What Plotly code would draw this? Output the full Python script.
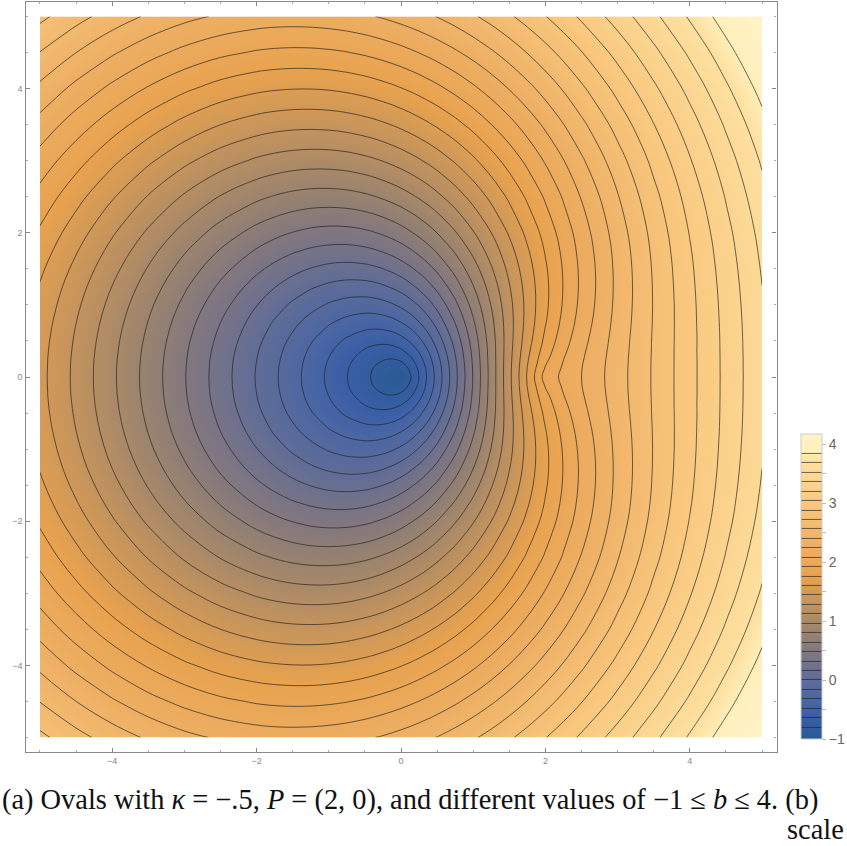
import plotly.graph_objects as go

x_vals = [-5, -4.5, -4, -3.5, -3, -2.5, -2, -1.75, -1.5, -1.25, -1, -.75, -.5, -.375, -.25, -.125, 0, .125, .25, .375, .5, .75, 1, 1.25, 1.5, 1.75, 2, 2.25, 2.5, 3, 3.5, 4, 4.5, 5]
y_upper = [0, .125, .25, .375, .5, .75, 1, 1.25, 1.5, 1.75, 2, 2.5, 3, 3.5, 4, 4.5, 5]

row_y0 = [1.5, 1.25, 1, .75, .5, .25, 0, -.125, -.25, -.375, -.5, -.625, -.75, -.8125, -.875, -.9375, -1, -.8125, -.625, -.4375, -.25, .125, .5, .875, 1.25, 1.625, 2, 2.125, 2.25, 2.5, 2.75, 3, 3.25, 3.5]
row_y0125 = [1.502, 1.251, 1.001, .751, .502, .252, .003, -.122, -.246, -.370, -.494, -.617, -.737, -.794, -.847, -.888, -.877, -.763, -.597, -.420, -.238, .132, .504, .876, 1.248, 1.614, 1.942, 2.113, 2.246, 2.499, 2.750, 3.000, 3.251, 3.501]
row_y025 = [1.504, 1.254, 1.005, .756, .507, .258, .012, -.111, -.234, -.355, -.474, -.590, -.697, -.743, -.778, -.790, -.758, -.666, -.530, -.371, -.202, .154, .516, .880, 1.242, 1.591, 1.891, 2.087, 2.233, 2.495, 2.749, 3.000, 3.251, 3.501]
row_y0375 = [1.509, 1.261, 1.012, .764, .516, .270, .026, -.095, -.214, -.331, -.444, -.549, -.639, -.672, -.690, -.684, -.643, -.561, -.444, -.304, -.148, .187, .534, .886, 1.234, 1.565, 1.848, 2.056, 2.216, 2.489, 2.747, 3.001, 3.252, 3.503]
row_y05 = [1.516, 1.269, 1.021, .775, .529, .286, .047, -.072, -.187, -.298, -.403, -.497, -.568, -.589, -.594, -.577, -.531, -.456, -.351, -.225, -.084, .228, .559, .896, 1.228, 1.541, 1.812, 2.026, 2.197, 2.482, 2.746, 3.000, 3.253, 3.505]
row_y075 = [1.536, 1.291, 1.047, .804, .564, .329, .101, -.008, -.113, -.210, -.296, -.364, -.404, -.407, -.395, -.367, -.318, -.250, -.161, -.056, .063, .332, .625, .928, 1.227, 1.509, 1.761, 1.977, 2.160, 2.467, 2.741, 3.002, 3.257, 3.510]
row_y1 = [1.564, 1.322, 1.082, .845, .613, .388, .175, .076, -.017, -.099, -.167, -.213, -.229, -.221, -.200, -.167, -.118, -.055, .023, .114, .217, .450, .707, .976, 1.244, 1.501, 1.736, 1.947, 2.134, 2.455, 2.739, 3.005, 3.264, 3.518]
row_y125 = [1.598, 1.360, 1.126, .897, .673, .460, .262, .175, .095, .027, -.024, -.053, -.052, -.037, -.012, .024, .071, .130, .200, .280, .370, .574, .801, 1.039, 1.280, 1.514, 1.733, 1.937, 2.122, 2.450, 2.741, 3.012, 3.273, 3.529]
row_y15 = [1.641, 1.408, 1.180, .958, .744, .544, .364, .286, .217, .164, .126, .111, .124, .142, .169, .205, .25, .305, .369, .441, .521, .701, .901, 1.115, 1.331, 1.545, 1.75, 1.944, 2.125, 2.453, 2.748, 3.022, 3.286, 3.543]
row_y175 = [1.690, 1.463, 1.241, 1.027, .825, .638, .475, .406, .349, .306, .280, .274, .294, .315, .343, .378, .421, .472, .531, .596, .668, .829, 1.008, 1.199, 1.395, 1.591, 1.783, 1.966, 2.142, 2.465, 2.761, 3.037, 3.302, 3.561]
row_y2 = [1.745, 1.524, 1.310, 1.105, .914, .740, .592, .533, .485, .450, .433, .436, .461, .483, .511, .545, .586, .634, .687, .747, .812, .957, 1.118, 1.290, 1.469, 1.650, 1.828, 2.002, 2.171, 2.488, 2.781, 3.058, 3.323, 3.582]
row_y25 = [1.874, 1.666, 1.467, 1.280, 1.110, .962, .844, .799, .765, .745, .741, .752, .782, .804, .831, .863, .899, .941, .986, 1.037, 1.093, 1.213, 1.347, 1.490, 1.640, 1.796, 1.952, 2.107, 2.261, 2.559, 2.844, 3.116, 3.380, 3.638]
row_y3 = [2.023, 1.829, 1.646, 1.478, 1.327, 1.201, 1.106, 1.072, 1.049, 1.039, 1.041, 1.057, 1.089, 1.110, 1.135, 1.165, 1.197, 1.234, 1.274, 1.317, 1.364, 1.467, 1.581, 1.704, 1.834, 1.968, 2.106, 2.245, 2.385, 2.662, 2.933, 3.197, 3.456, 3.710]
row_y35 = [2.190, 2.010, 1.842, 1.691, 1.559, 1.451, 1.374, 1.348, 1.333, 1.329, 1.335, 1.354, 1.386, 1.405, 1.429, 1.455, 1.485, 1.517, 1.553, 1.591, 1.632, 1.721, 1.820, 1.928, 2.040, 2.159, 2.281, 2.407, 2.533, 2.790, 3.046, 3.300, 3.551, 3.798]
row_y4 = [2.372, 2.205, 2.052, 1.915, 1.799, 1.707, 1.644, 1.625, 1.615, 1.614, 1.623, 1.643, 1.673, 1.692, 1.714, 1.737, 1.764, 1.793, 1.825, 1.860, 1.895, 1.975, 2.062, 2.156, 2.257, 2.362, 2.472, 2.585, 2.702, 2.939, 3.179, 3.421, 3.663, 3.903]
row_y45 = [2.566, 2.411, 2.271, 2.148, 2.045, 1.966, 1.914, 1.899, 1.893, 1.895, 1.906, 1.925, 1.954, 1.972, 1.992, 2.014, 2.038, 2.065, 2.093, 2.124, 2.157, 2.227, 2.305, 2.389, 2.479, 2.575, 2.674, 2.778, 2.884, 3.103, 3.330, 3.559, 3.790, 4.023]
row_y5 = [2.770, 2.627, 2.498, 2.387, 2.296, 2.227, 2.184, 2.172, 2.169, 2.173, 2.184, 2.203, 2.230, 2.247, 2.265, 2.286, 2.308, 2.332, 2.358, 2.386, 2.415, 2.479, 2.550, 2.626, 2.708, 2.794, 2.885, 2.980, 3.078, 3.282, 3.493, 3.711, 3.932, 4.156]

upper_rows = [row_y0, row_y0125, row_y025, row_y0375, row_y05, row_y075, row_y1, row_y125, row_y15, row_y175, row_y2, row_y25, row_y3, row_y35, row_y4, row_y45, row_y5]
y_vals = [-v for v in y_upper[:0:-1]] + y_upper
z_vals = upper_rows[:0:-1] + upper_rows

cb_tick_vals = [-1, -.5, 0, .5, 1, 1.5, 2, 2.5, 3, 3.5, 4]
cb_tick_text = ["−1", "", "0", "", "1", "", "2", "", "3", "", "4"]
z_low, z_high = -1, 4.17
contour_start, contour_end, contour_step = -.79, 3.85, .16

W, H = 847, 846
stops = [(-1, "#295a94"), (-.6, "#3a5fa6"), (-.35, "#4a66a4"), (0, "#5f6c98"), (.4, "#7d7583"),
         (.8, "#9a836f"), (1.2, "#bc9060"), (1.75, "#e8a24e"), (2.3, "#eeb065"), (3, "#f9c87e"),
         (3.7, "#fee0a0"), (3.88, "#fff0bd"), (4.17, "#fff3c6")]
colorscale = [[(v - z_low) / (z_high - z_low), c] for v, c in stops]

fig = go.Figure(go.Contour(
    x=x_vals, y=y_vals, z=z_vals,
    zmin=z_low, zmax=z_high, colorscale=colorscale,
    autocontour=False,
    contours=dict(start=contour_start, end=contour_end, size=contour_step, coloring="heatmap", showlabels=False),
    line=dict(color="rgba(35,35,35,0.75)", width=0.9, smoothing=1),
    colorbar=dict(
        x=801 / W, xanchor="left", xpad=0, thickness=21, thicknessmode="pixels",
        y=(H - 739) / H, yanchor="bottom", ypad=0, len=305, lenmode="pixels",
        tickmode="array", tickvals=cb_tick_vals, ticktext=cb_tick_text,
        ticks="outside", ticklen=4, tickcolor="#bbbbbb", tickwidth=1,
        tickfont=dict(family="Liberation Sans", size=14, color="#666666"),
        outlinecolor="#cccccc", outlinewidth=1,
    ),
    hoverinfo="skip",
))

axis_style = dict(
    range=[-5.2, 5.2], tickmode="linear", tick0=0, dtick=2, ticks="inside", ticklen=4,
    tickcolor="#888888", tickwidth=1, showgrid=False, zeroline=False, showline=True,
    linecolor="#8a8a8a", linewidth=1.2, mirror="allticks",
    tickfont=dict(family="Liberation Sans", size=9, color="#888888"),
    minor=dict(dtick=.5, tick0=0, ticks="inside", ticklen=2, tickcolor="#aaaaaa", tickwidth=1, showgrid=False),
)
fig.update_layout(
    width=W, height=H, autosize=False, margin=dict(l=0, r=0, t=0, b=0),
    paper_bgcolor="white", plot_bgcolor="white",
    xaxis=dict(domain=[25.5 / W, 776.5 / W], **axis_style),
    yaxis=dict(domain=[(H - 752) / H, (H - 2) / H], **axis_style),
    annotations=[
        dict(text="(a) Ovals with <i>κ</i> = −.5, <i>P</i> = (2, 0), and different values of −1 ≤ <i>b</i> ≤ 4. (b)",
             xref="paper", yref="paper", x=0, y=(H - 800) / H, xanchor="left", yanchor="middle",
             showarrow=False, font=dict(family="Liberation Serif", size=28.4, color="#111111")),
        dict(text="scale", xref="paper", yref="paper", x=846 / W, y=(H - 829) / H, xanchor="right", yanchor="middle",
             showarrow=False, font=dict(family="Liberation Serif", size=28.4, color="#111111")),
    ],
)
fig.write_html("out.html", config={"displayModeBar": False},
               post_script="document.body.style.margin='0';document.documentElement.style.overflow='hidden';")
